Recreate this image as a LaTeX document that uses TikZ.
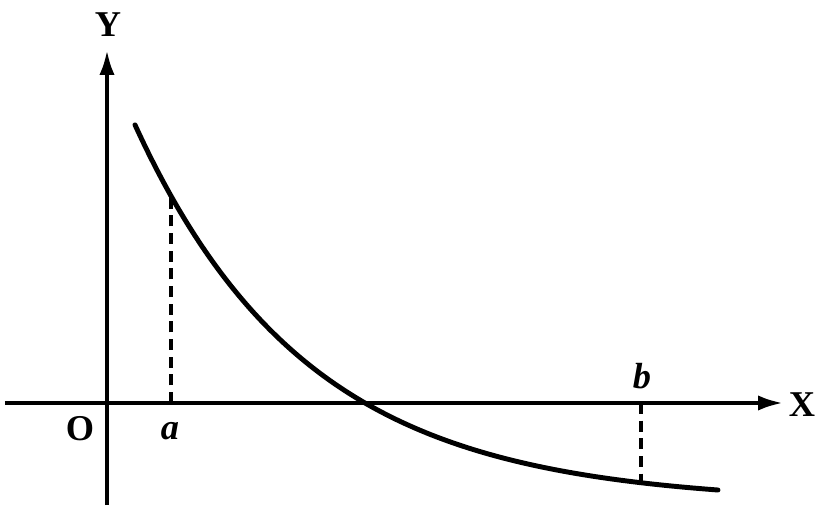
\documentclass[tikz,border=0pt]{standalone}
\usepackage{fontspec}
\setmainfont{Liberation Serif}
\usetikzlibrary{arrows.meta}

\begin{document}
\begin{tikzpicture}[x=0.03cm, y=0.03cm, >={Latex[length=7.5mm, width=4.6mm]}, line width=3.4pt,
  lbl/.style={font=\fontsize{31}{36}\selectfont\bfseries},
  guide/.style={line width=3.2pt, dash pattern=on 3.3mm off 2mm}]

\useasboundingbox (-107,-105) rectangle (710,403);

% Axes
\coordinate (xs) at (-102,0);
\coordinate (xe) at (676,0);
\coordinate (ys) at (0,-102);
\coordinate (ye) at (0,353);
\draw[->] (xs) -- (xe);
\draw[->] (ys) -- (ye);

% Axis labels
\node[lbl] (xlab) at (695,-2) {X};
\node[lbl] (ylab) at (1,378) {Y};
\node[lbl] (olab) at (-27,-26) {O};
\node[lbl, font=\fontsize{31}{36}\selectfont\bfseries\itshape] (alab) at (63,-28) {a};
\node[lbl, font=\fontsize{31}{36}\selectfont\bfseries\itshape] (blab) at (535,27) {b};

% Curve
\draw[line width=4.2pt, line cap=round, domain=28:611, samples=80, smooth]
  plot (\x, {100*exp(-0.00578*(\x-258))-100});

% Dashed guides
\coordinate (pa) at (64,0);
\coordinate (qa) at (64,207);
\coordinate (pb) at (534,0);
\coordinate (qb) at (534,-82);
\draw[guide] (pa) -- (qa);
\draw[guide] (pb) -- (qb);

\end{tikzpicture}
\end{document}
